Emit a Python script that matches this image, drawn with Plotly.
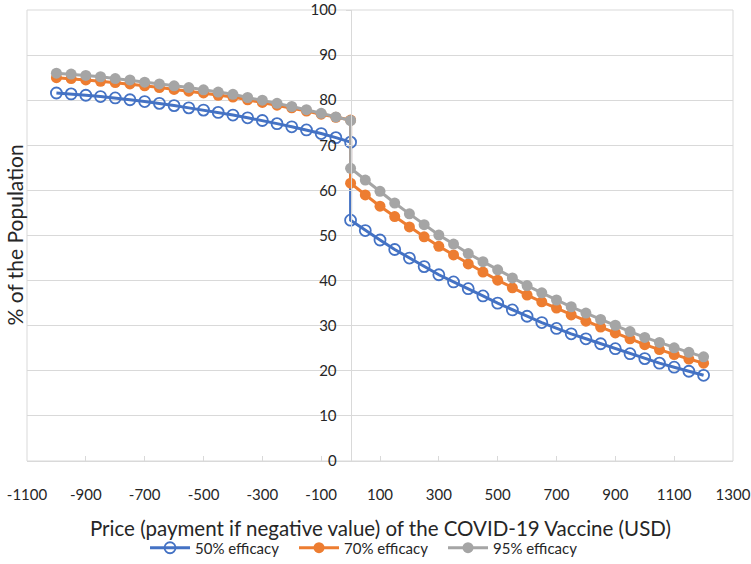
import plotly.graph_objects as go

# price points (USD); x = 0 appears twice because the curves jump there
price_neg = [-1000, -950, -900, -850, -800, -750, -700, -650, -600, -550, -500,
             -450, -400, -350, -300, -250, -200, -150, -100, -50, 0]
price_pos = [0, 50, 100, 150, 200, 250, 300, 350, 400, 450, 500, 550, 600,
             650, 700, 750, 800, 850, 900, 950, 1000, 1050, 1100, 1150, 1200]

eff50_neg = [81.6, 81.4, 81.1, 80.8, 80.5, 80.1, 79.7, 79.3, 78.8, 78.3, 77.8,
             77.3, 76.7, 76.1, 75.5, 74.8, 74.1, 73.4, 72.6, 71.7, 70.7]
eff50_pos = [53.4, 51.1, 49.0, 46.9, 45.0, 43.1, 41.3, 39.7, 38.2, 36.6, 35.0,
             33.5, 32.1, 30.7, 29.4, 28.2, 27.1, 26.0, 24.9, 23.8, 22.7, 21.7,
             20.8, 19.9, 19.0]

eff70_neg = [85.0, 84.8, 84.5, 84.2, 83.9, 83.6, 83.2, 82.8, 82.4, 82.0, 81.6,
             81.1, 80.7, 80.1, 79.5, 78.9, 78.3, 77.6, 76.9, 76.2, 75.6]
eff70_pos = [61.6, 59.0, 56.5, 54.2, 51.9, 49.7, 47.6, 45.7, 43.7, 41.9, 40.1,
             38.4, 36.8, 35.3, 33.9, 32.4, 31.0, 29.7, 28.4, 27.1, 25.8, 24.7,
             23.6, 22.6, 21.7]

eff95_neg = [86.0, 85.8, 85.5, 85.2, 84.8, 84.5, 84.0, 83.6, 83.2, 82.8, 82.3,
             81.8, 81.3, 80.6, 80.0, 79.3, 78.6, 77.9, 77.1, 76.3, 75.5]
eff95_pos = [64.9, 62.3, 59.8, 57.2, 54.8, 52.4, 50.1, 48.1, 46.0, 44.2, 42.4,
             40.6, 38.9, 37.3, 35.7, 34.2, 32.8, 31.4, 30.1, 28.7, 27.4, 26.3,
             25.1, 24.1, 23.1]

# tick labels use a plain hyphen like the original
x_ticks = [-1100, -900, -700, -500, -300, -100, 100, 300, 500, 700, 900, 1100, 1300]
x_ticklabels = ["-1100", "-900", "-700", "-500", "-300", "-100", "100", "300",
                "500", "700", "900", "1100", "1300"]

x_all = price_neg + price_pos
FONT = "Lato, 'Open Sans', sans-serif"

fig = go.Figure()
fig.add_trace(go.Scatter(x=x_all, y=eff50_neg + eff50_pos, name="50% efficacy",
                         mode="lines+markers",
                         line=dict(color="#4472C4", width=3),
                         marker=dict(symbol="circle-open", size=11, color="#4472C4",
                                     line=dict(width=1.8))))
fig.add_trace(go.Scatter(x=x_all, y=eff70_neg + eff70_pos, name="70% efficacy",
                         mode="lines+markers",
                         line=dict(color="#ED7D31", width=3),
                         marker=dict(symbol="circle", size=11, color="#ED7D31")))
fig.add_trace(go.Scatter(x=x_all, y=eff95_neg + eff95_pos, name="95% efficacy",
                         mode="lines+markers",
                         line=dict(color="#A5A5A5", width=3),
                         marker=dict(symbol="circle", size=11, color="#A5A5A5")))

# y axis crosses the x axis at price 0
ypos = (0 - (-1100)) / 2400

fig.update_layout(
    width=751, height=564,
    margin=dict(l=27, r=18, t=10, b=103, autoexpand=False),
    paper_bgcolor="white", plot_bgcolor="white",
    font=dict(family=FONT, color="#262626", size=14),
    showlegend=True,
    legend=dict(orientation="h", x=0.4907, xanchor="center", xref="container",
                y=0.0284, yanchor="middle", yref="container",
                font=dict(size=15), entrywidth=94, itemwidth=40),
    xaxis=dict(range=[-1100, 1300], tickvals=x_ticks, ticktext=x_ticklabels,
               showgrid=False, automargin=False, ticklabeloverflow="allow",
               zeroline=False, showline=True, linecolor="#d9d9d9", linewidth=1,
               ticks="inside", ticklen=5, tickcolor="#d9d9d9",
               ticklabelstandoff=20, tickfont=dict(size=15)),
    yaxis=dict(range=[0, 100], dtick=10, anchor="free", position=ypos,
               automargin=False, ticklabeloverflow="allow",
               showgrid=True, gridcolor="#d9d9d9", zeroline=False,
               showline=True, linecolor="#d9d9d9", linewidth=1,
               ticks="outside", ticklen=5, tickcolor="#d9d9d9",
               ticklabelstandoff=6, tickfont=dict(size=15)),
    shapes=[dict(type="rect", xref="paper", yref="paper", x0=0, x1=1, y0=0, y1=1,
                 line=dict(color="#d9d9d9", width=1), layer="below")],
    annotations=[
        dict(text="% of the Population", xref="paper", yref="paper",
             x=0, y=0.5, xshift=-13, textangle=-90, showarrow=False,
             xanchor="center", yanchor="middle",
             font=dict(size=21, family=FONT, color="#262626")),
        dict(text="Price (payment if negative value) of the COVID-19 Vaccine (USD)",
             xref="paper", yref="paper", x=0.5, y=0, yshift=-67, showarrow=False,
             xanchor="center", yanchor="middle",
             font=dict(size=20.5, family=FONT, color="#262626")),
    ],
)

# drop the browser's default body margin so the chart sits at the page corner
fig.write_html("out.html", config={"displayModeBar": False},
               post_script="document.body.style.margin='0';")
